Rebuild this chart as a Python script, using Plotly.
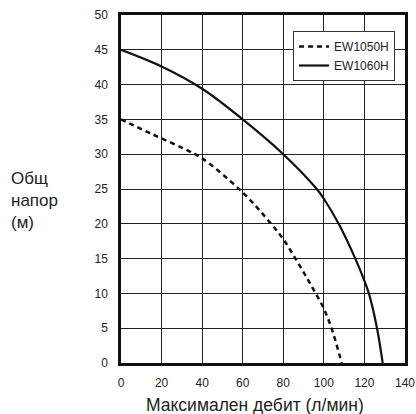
import plotly.graph_objects as go

# EW1050H (dashed)
x_1050 = [0, 16, 31, 40, 60, 74, 80, 86, 90.5, 95, 100, 104, 108.8]
y_1050 = [35, 32.8, 30.8, 29.4, 24.5, 20, 17.8, 15, 12.8, 10.5, 7.8, 4.8, 0]
# EW1060H (solid)
x_1060 = [0, 20, 40, 60, 80, 96.5, 100, 107.3, 115.5, 120, 122.2, 126.2, 129]
y_1060 = [45, 42.6, 39.4, 35, 30, 25, 23.6, 20, 15, 11.8, 10, 5, 0]

x_ticks = [0, 20, 40, 60, 80, 100, 120, 140]
y_ticks = [0, 5, 10, 15, 20, 25, 30, 35, 40, 45, 50]

fig = go.Figure()
fig.add_trace(go.Scatter(x=x_1050, y=y_1050, mode="lines", name="EW1050H",
                         line=dict(color="#111111", width=2.5, dash="5px,4px", shape="spline", smoothing=1)))
fig.add_trace(go.Scatter(x=x_1060, y=y_1060, mode="lines", name="EW1060H",
                         line=dict(color="#111111", width=2.2, shape="spline", smoothing=1)))

font = "Liberation Sans, Arial, sans-serif"
fig.update_layout(
    width=416, height=414,
    margin=dict(l=121, r=11, t=15, b=51),
    paper_bgcolor="white", plot_bgcolor="white",
    font=dict(family=font, color="#222222", size=12),
    showlegend=True,
    legend=dict(x=0.965, y=0.954, xanchor="right", yanchor="top",
                bgcolor="white", bordercolor="#333333", borderwidth=1,
                font=dict(size=12, family=font), tracegroupgap=0,
                itemwidth=30),
    xaxis=dict(range=[0, 140], tickvals=x_ticks, showgrid=True, gridcolor="#222222", gridwidth=1,
               showline=True, linecolor="#111111", linewidth=2.5, mirror=True, zeroline=False,
               ticks="", tickfont=dict(size=12), ticklabelstandoff=7, automargin=False),
    yaxis=dict(range=[0, 50], tickvals=y_ticks, showgrid=True, gridcolor="#222222", gridwidth=1,
               showline=True, linecolor="#111111", linewidth=2.5, mirror=True, zeroline=False,
               ticks="", tickfont=dict(size=12), ticklabelstandoff=8, automargin=False),
    annotations=[
        dict(text="Общ<br>напор<br>(м)", xref="paper", yref="paper",
             x=-0.394, y=0.466, xanchor="left", yanchor="middle", showarrow=False,
             align="left", font=dict(size=17, family=font, color="#222222")),
        dict(text="Максимален дебит (л/мин)", xref="paper", yref="paper",
             x=0.472, y=-0.121, xanchor="center", yanchor="middle", showarrow=False,
             font=dict(size=17.5, family=font, color="#222222")),
    ],
)
fig.write_html("out.html", config={"displayModeBar": False},
               post_script="document.body.style.margin='0';")
